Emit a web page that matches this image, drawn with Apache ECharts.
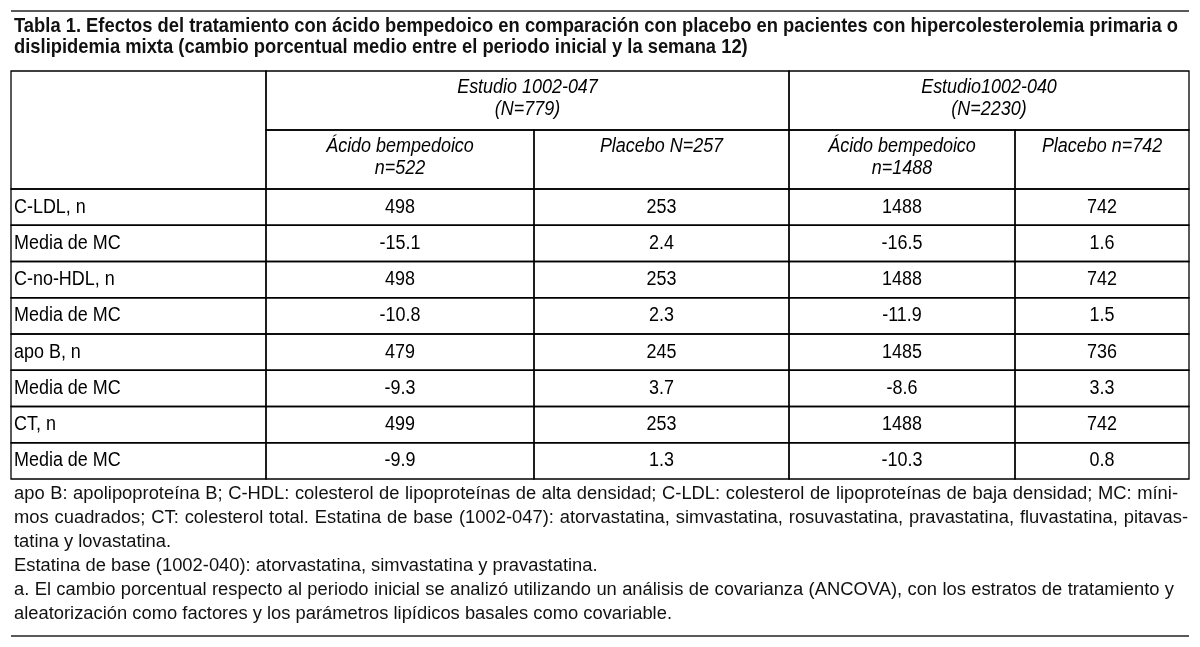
<!DOCTYPE html>
<html>
<head>
<meta charset="utf-8">
<script src="https://cdn.jsdelivr.net/npm/echarts@6/dist/echarts.min.js"></script>
<style>
  html, body { margin: 0; padding: 0; background: #fff; }
  #chart { width: 1200px; height: 647px; }
</style>
</head>
<body>
<div id="chart"></div>
<script>
// ---- table content ----
const titleLines = [
  'Tabla 1. Efectos del tratamiento con ácido bempedoico en comparación con placebo en pacientes con hipercolesterolemia primaria o',
  'dislipidemia mixta (cambio porcentual medio entre el periodo inicial y la semana 12)'
];
const studies = ['Estudio 1002-047\n(N=779)', 'Estudio1002-040\n(N=2230)'];
const groups = ['Ácido bempedoico\nn=522', 'Placebo N=257', 'Ácido bempedoico\nn=1488', 'Placebo n=742'];
const rowLabels = ['C-LDL, n', 'Media de MC', 'C-no-HDL, n', 'Media de MC', 'apo B, n', 'Media de MC', 'CT, n', 'Media de MC'];
const acido047 = [498, -15.1, 498, -10.8, 479, -9.3, 499, -9.9];
const placebo047 = [253, 2.4, 253, 2.3, 245, 3.7, 253, 1.3];
const acido040 = [1488, -16.5, 1488, -11.9, 1485, -8.6, 1488, -10.3];
const placebo040 = [742, 1.6, 742, 1.5, 736, 3.3, 742, 0.8];
const footLines = [
  'apo B: apolipoproteína B; C-HDL: colesterol de lipoproteínas de alta densidad; C-LDL: colesterol de lipoproteínas de baja densidad; MC: míni-',
  'mos cuadrados; CT: colesterol total. Estatina de base (1002-047): atorvastatina, simvastatina, rosuvastatina, pravastatina, fluvastatina, pitavas-',
  'tatina y lovastatina.',
  'Estatina de base (1002-040): atorvastatina, simvastatina y pravastatina.',
  'a. El cambio porcentual respecto al periodo inicial se analizó utilizando un análisis de covarianza (ANCOVA), con los estratos de tratamiento y',
  'aleatorización como factores y los parámetros lipídicos basales como covariable.'
];

// ---- layout ----
const FONT = "'Liberation Sans', Arial, Helvetica, sans-serif";
const colEdges = [0, 255, 523, 778, 1004, 1178];
const headerH = 59;
const rowH = 36.25;
const rowEdges = [0, headerH, headerH * 2];
rowLabels.forEach(function () { rowEdges.push(rowEdges[rowEdges.length - 1] + rowH); });
const justifyTo = [1178, 1188, null, null, 1174, null];
const footTop = 494;
const footStep = 24;
const ruleBottom = 636;

// the original uses a condensed face: squeeze Liberation Sans horizontally
const ctx = document.createElement('canvas').getContext('2d');
function textWidth(str, size, weight, style) {
  ctx.font = (style || 'normal') + ' ' + (weight || 'normal') + ' ' + size + 'px ' + FONT;
  return ctx.measureText(str).width;
}
const bodySize = 20;
const bodyScale = 106.7 / textWidth('Media de MC', bodySize);
const titleSize = 21;
const titleScale = 1164 / textWidth(titleLines[0], titleSize, 'bold');
const footSize = 17.5;
const footScale = 658 / textWidth(footLines[5], footSize);

// ---- cells ----
const cells = [];
cells.push({ c: [0, 1], r: [0, 2], text: '' });
studies.forEach(function (s, i) {
  cells.push({ c: [1 + i * 2, 3 + i * 2], r: [0, 1], text: s, italic: true, top: true });
});
groups.forEach(function (g, i) {
  cells.push({ c: [1 + i, 2 + i], r: [1, 2], text: g, italic: true, top: true });
});
const valueCols = [acido047, placebo047, acido040, placebo040];
rowLabels.forEach(function (label, i) {
  cells.push({ c: [0, 1], r: [i + 2, i + 3], text: label, left: true });
  valueCols.forEach(function (col, j) {
    cells.push({ c: [j + 1, j + 2], r: [i + 2, i + 3], text: String(col[i]) });
  });
});
const cellData = cells.map(function (cell) {
  return [colEdges[cell.c[0]], rowEdges[cell.r[0]], colEdges[cell.c[1]], rowEdges[cell.r[1]]];
});

// ---- title, rules & footnotes ----
const graphics = [];
graphics.push({ type: 'line', shape: { x1: 11, y1: 11, x2: 1189, y2: 11 }, style: { stroke: '#222', lineWidth: 1.6 } });
graphics.push({ type: 'line', shape: { x1: 11, y1: ruleBottom, x2: 1189, y2: ruleBottom }, style: { stroke: '#222', lineWidth: 1.6 } });
titleLines.forEach(function (line, i) {
  graphics.push({
    type: 'text', x: 14, y: 26 + i * 21.5, scaleX: titleScale,
    style: { text: line, font: 'bold ' + titleSize + 'px ' + FONT, fill: '#111', textVerticalAlign: 'middle' }
  });
});
footLines.forEach(function (line, i) {
  const y = footTop + i * footStep;
  const font = footSize + 'px ' + FONT;
  if (justifyTo[i]) {
    const words = line.split(' ');
    const widths = words.map(function (w) { return textWidth(w, footSize) * footScale; });
    const total = widths.reduce(function (a, b) { return a + b; }, 0);
    const gap = (justifyTo[i] - 14 - total) / (words.length - 1);
    let x = 14;
    words.forEach(function (w, k) {
      graphics.push({ type: 'text', x: x, y: y, scaleX: footScale, style: { text: w, font: font, fill: '#111', textVerticalAlign: 'middle' } });
      x += widths[k] + gap;
    });
  } else {
    graphics.push({ type: 'text', x: 14, y: y, scaleX: footScale, style: { text: line, font: font, fill: '#111', textVerticalAlign: 'middle' } });
  }
});

const chart = echarts.init(document.getElementById('chart'));
chart.setOption({
  animation: false,
  backgroundColor: '#fff',
  grid: { left: 11, top: 71, width: 1178, height: rowEdges[rowEdges.length - 1] },
  xAxis: { type: 'value', min: 0, max: colEdges[colEdges.length - 1], show: false },
  yAxis: { type: 'value', min: 0, max: rowEdges[rowEdges.length - 1], inverse: true, show: false },
  graphic: graphics,
  series: [{
    type: 'custom',
    silent: true,
    clip: false,
    data: cellData,
    renderItem: function (params, api) {
      const cell = cells[params.dataIndex];
      const p0 = api.coord([api.value(0), api.value(1)]);
      const p1 = api.coord([api.value(2), api.value(3)]);
      const w = p1[0] - p0[0];
      const h = p1[1] - p0[1];
      const children = [{
        type: 'rect',
        shape: { x: p0[0], y: p0[1], width: w, height: h },
        style: { fill: 'none', stroke: '#000', lineWidth: 1.3 }
      }];
      if (cell.text) {
        children.push({
          type: 'text',
          x: cell.left ? p0[0] + 3 : p0[0] + w / 2,
          y: cell.top ? p0[1] + 5 : p0[1] + h / 2,
          scaleX: bodyScale,
          style: {
            text: cell.text,
            x: 0,
            y: 0,
            textAlign: cell.left ? 'left' : 'center',
            textVerticalAlign: cell.top ? 'top' : 'middle',
            font: (cell.italic ? 'italic ' : '') + bodySize + 'px ' + FONT,
            lineHeight: 22,
            fill: '#000'
          }
        });
      }
      return { type: 'group', children: children };
    }
  }]
});
window.addEventListener('resize', function () { chart.resize(); });
</script>
</body>
</html>
